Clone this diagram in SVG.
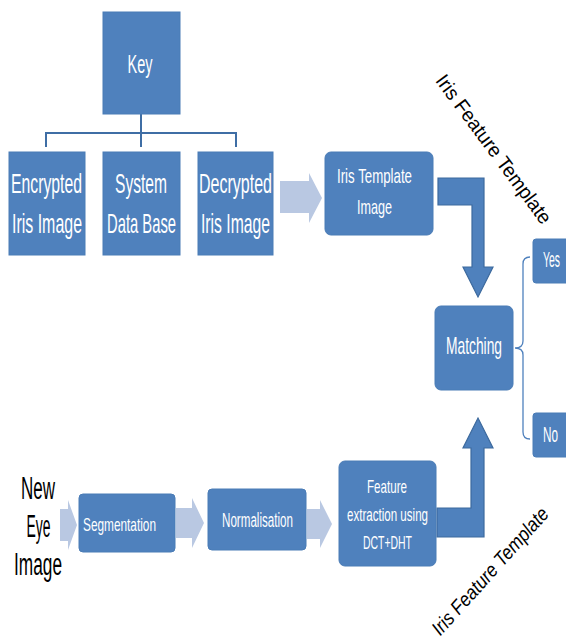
<svg xmlns="http://www.w3.org/2000/svg" width="566" height="640" viewBox="0 0 566 640">
<style>
.box{fill:#4f81bd;stroke:#4a7cb6;stroke-width:1}
.t{font-family:"Liberation Sans",Arial,sans-serif;fill:#ffffff;text-anchor:middle}
.lbl{font-family:"Liberation Sans",Arial,sans-serif;fill:#000000;text-anchor:middle}
.light{fill:#b9c8e2}
.bent{fill:#4f81bd;stroke:#3d6a9e;stroke-width:1.2}
.conn{fill:none;stroke:#3f6ea5;stroke-width:2}
.brace{fill:none;stroke:#4f81bd;stroke-width:1.3}
</style>
<rect width="566" height="640" fill="#ffffff"/>
<g id="connectors">
<path class="conn" d="M141,114 V147 M46,147 V133 H236 V147"/>
<path class="brace" d="M530,257 Q523,257 523,264 L523,341 Q523,348 515,348 Q523,348 523,355 L523,432 Q523,439 530,439"/>
<polygon class="light" points="280,181 309,181 309,173 322,198 309,223 309,213 280,213"/>
<polygon class="light" points="60,509 68,509 68,500 77,525 68,550 68,541 60,541"/>
<polygon class="light" points="176,508 192,508 192,498 204,523 192,548 192,538 176,538"/>
<polygon class="light" points="307,509 320,509 320,500 332,524 320,548 320,539 307,539"/>
<path class="bent" d="M438,178 L484,178 L484,267 L493,267 L478,297 L463,267 L472,267 L472,205 L438,205 Z"/>
<path class="bent" d="M437,537 L484,537 L484,448 L493,448 L478,418 L463,448 L471,448 L471,508 L437,508 Z"/>
</g>
<g id="key">
<rect class="box" x="103" y="12" width="77" height="102"/>
<text class="t" x="140" y="73" font-size="25" textLength="25" lengthAdjust="spacingAndGlyphs">Key</text>
</g>
<g id="encrypted">
<rect class="box" x="9" y="152" width="76" height="103"/>
<text class="t" x="46.5" y="193" font-size="28" textLength="71" lengthAdjust="spacingAndGlyphs">Encrypted</text>
<text class="t" x="47" y="233" font-size="28" textLength="70" lengthAdjust="spacingAndGlyphs">Iris Image</text>
</g>
<g id="system">
<rect class="box" x="103" y="152" width="77" height="103"/>
<text class="t" x="141" y="193" font-size="28" textLength="52" lengthAdjust="spacingAndGlyphs">System</text>
<text class="t" x="141.5" y="233" font-size="28" textLength="69" lengthAdjust="spacingAndGlyphs">Data Base</text>
</g>
<g id="decrypted">
<rect class="box" x="198" y="152" width="75" height="103"/>
<text class="t" x="235.5" y="193" font-size="28" textLength="73" lengthAdjust="spacingAndGlyphs">Decrypted</text>
<text class="t" x="235.5" y="233" font-size="28" textLength="69" lengthAdjust="spacingAndGlyphs">Iris Image</text>
</g>
<g id="iris-template">
<rect class="box" x="325" y="152" width="108" height="83" rx="6"/>
<text class="t" x="374.5" y="183" font-size="21" textLength="75" lengthAdjust="spacingAndGlyphs">Iris Template</text>
<text class="t" x="374.5" y="214" font-size="21" textLength="35" lengthAdjust="spacingAndGlyphs">Image</text>
</g>
<g id="matching">
<rect class="box" x="435" y="306" width="78" height="84" rx="6"/>
<text class="t" x="474" y="354" font-size="24" textLength="56" lengthAdjust="spacingAndGlyphs">Matching</text>
</g>
<g id="yes">
<rect class="box" x="533" y="239" width="40" height="44" rx="3"/>
<text class="t" x="551.5" y="267" font-size="22" textLength="17" lengthAdjust="spacingAndGlyphs">Yes</text>
</g>
<g id="no">
<rect class="box" x="533" y="413" width="40" height="44" rx="3"/>
<text class="t" x="550.5" y="442" font-size="22" textLength="15" lengthAdjust="spacingAndGlyphs">No</text>
</g>
<g id="new-eye-image">
<text class="lbl" x="38" y="499" font-size="31" textLength="34" lengthAdjust="spacingAndGlyphs">New</text>
<text class="lbl" x="38.5" y="537" font-size="31" textLength="24" lengthAdjust="spacingAndGlyphs">Eye</text>
<text class="lbl" x="38" y="575" font-size="31" textLength="48" lengthAdjust="spacingAndGlyphs">Image</text>
</g>
<g id="segmentation">
<rect class="box" x="79" y="494" width="96" height="58" rx="4"/>
<text class="t" x="119.5" y="531" font-size="19" textLength="73" lengthAdjust="spacingAndGlyphs">Segmentation</text>
</g>
<g id="normalisation">
<rect class="box" x="208" y="489" width="98" height="61" rx="4"/>
<text class="t" x="257.5" y="527" font-size="20" textLength="71" lengthAdjust="spacingAndGlyphs">Normalisation</text>
</g>
<g id="feature-extraction">
<rect class="box" x="339" y="461" width="97" height="105" rx="6"/>
<text class="t" x="387" y="493" font-size="19" textLength="40" lengthAdjust="spacingAndGlyphs">Feature</text>
<text class="t" x="387.5" y="521" font-size="19" textLength="81" lengthAdjust="spacingAndGlyphs">extraction using</text>
<text class="t" x="387.5" y="549" font-size="19" textLength="49" lengthAdjust="spacingAndGlyphs">DCT+DHT</text>
</g>
<g id="label-top">
<text class="lbl" transform="translate(494,149) rotate(53.5)" x="0" y="7" font-size="20" textLength="180" lengthAdjust="spacingAndGlyphs">Iris Feature Template</text>
</g>
<g id="label-bottom">
<text class="lbl" transform="translate(490,571) rotate(-48)" x="0" y="7" font-size="20" font-style="italic" textLength="164" lengthAdjust="spacingAndGlyphs">Iris Feature Template</text>
</g>
</svg>
